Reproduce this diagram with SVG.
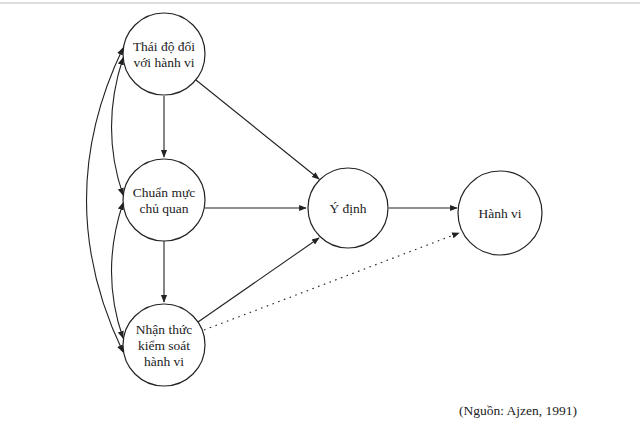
<svg xmlns="http://www.w3.org/2000/svg" width="640" height="433" viewBox="0 0 640 433">
<style>
circle{fill:#fff;stroke:#222;stroke-width:1.2}
text{font-family:"Liberation Serif","DejaVu Serif",serif;font-size:13.5px;fill:#222;text-anchor:middle}
.c{fill:none;stroke:#222;stroke-width:1.1}
</style>
<defs><marker id="a" viewBox="0 0 10 10" refX="9" refY="5" markerWidth="7" markerHeight="7" orient="auto-start-reverse"><path d="M0,1 L10,5 L0,9 z" fill="#222"/></marker></defs>
<rect width="640" height="433" fill="#fff"/>
<line x1="0" y1="3" x2="640" y2="3" stroke="#ddd" stroke-width="2"/>
<g id="connectors">
<line class="c" x1="164" y1="96" x2="164" y2="157" marker-end="url(#a)"/>
<line class="c" x1="164" y1="241" x2="164" y2="302" marker-end="url(#a)"/>
<line class="c" x1="196" y1="80" x2="319" y2="179" marker-end="url(#a)"/>
<line class="c" x1="205" y1="208" x2="306" y2="208" marker-end="url(#a)"/>
<line class="c" x1="198" y1="322" x2="319" y2="238" marker-end="url(#a)"/>
<line class="c" x1="389" y1="208" x2="457" y2="208" marker-end="url(#a)"/>
<line class="c" x1="204" y1="330" x2="459" y2="233" stroke-width="1.6" stroke-dasharray="1.6,4.5" marker-end="url(#a)"/>
<path class="c" d="M123,58 Q100,128 123,195" marker-start="url(#a)" marker-end="url(#a)"/>
<path class="c" d="M123,203 Q100,272 123,338" marker-start="url(#a)" marker-end="url(#a)"/>
<path class="c" d="M123,48 Q50,200 123,352" marker-start="url(#a)" marker-end="url(#a)"/>
</g>
<g id="n1"><circle cx="164" cy="54" r="41"/><text x="164" y="51">Thái độ đối</text><text x="164" y="67">với hành vi</text></g>
<g id="n2"><circle cx="164" cy="200" r="41"/><text x="164" y="197">Chuẩn mực</text><text x="164" y="213">chủ quan</text></g>
<g id="n3"><circle cx="164" cy="345" r="41"/><text x="164" y="334">Nhận thức</text><text x="164" y="350">kiểm soát</text><text x="164" y="366">hành vi</text></g>
<g id="n4"><circle cx="348" cy="208" r="40"/><text x="348" y="213">Ý định</text></g>
<g id="n5"><circle cx="500" cy="213" r="42"/><text x="500" y="218">Hành vi</text></g>
<text x="518" y="415">(Nguồn: Ajzen, 1991)</text>
</svg>
